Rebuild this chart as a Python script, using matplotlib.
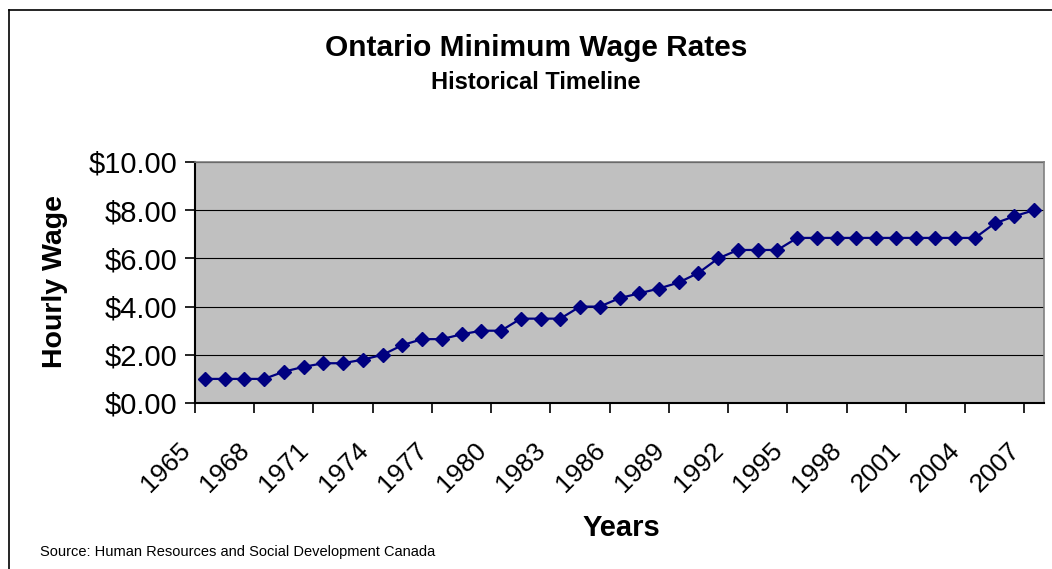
import matplotlib.pyplot as plt
from matplotlib.lines import Line2D
import numpy as np

plt.rcParams['font.family'] = ['Liberation Sans', 'DejaVu Sans']

# Ontario minimum wage, 1965 - 2007
years = list(range(1965, 2008))
wages = [1.00, 1.00, 1.00, 1.00, 1.30, 1.50, 1.65, 1.65, 1.80, 2.00,
         2.40, 2.65, 2.65, 2.85, 3.00, 3.00, 3.50, 3.50, 3.50, 4.00,
         4.00, 4.35, 4.55, 4.75, 5.00, 5.40, 6.00, 6.35, 6.35, 6.35,
         6.85, 6.85, 6.85, 6.85, 6.85, 6.85, 6.85, 6.85, 6.85, 6.85,
         7.45, 7.75, 8.00]
yticks = [0, 2, 4, 6, 8, 10]

W, H = 1052, 569
fig = plt.figure(figsize=(W / 100, H / 100), dpi=100)
ax = fig.add_axes([195 / W, 1 - 403 / H, (1044 - 195) / W, (403 - 162) / H])

x = np.arange(len(years))
ax.set_facecolor('#C0C0C0')
ax.plot(x, wages, color='#000080', lw=1.6, marker='D', markersize=6.8,
        markerfacecolor='#000080', markeredgecolor='#000080', zorder=3)

ax.set_xlim(-0.5, len(years) - 0.5)
ax.set_ylim(0, 10)
ax.set_yticks(yticks)
ax.set_yticklabels(['$%.2f' % v for v in yticks], fontsize=21)
ax.yaxis.grid(True, color='black', lw=0.8)
ax.set_axisbelow(True)

# every third year labelled, tick marks on the category boundary before it
lab_idx = x[::3]
ax.set_xticks(lab_idx - 0.5)
ax.set_xticklabels([str(years[i]) for i in lab_idx], fontsize=19,
                   rotation=45, ha='right', va='top')
ax.tick_params(axis='x', length=7, width=1.2, color='black', pad=18)
ax.tick_params(axis='y', length=7, width=1.2, pad=6)

for s in ['left', 'bottom']:
    ax.spines[s].set_color('black')
    ax.spines[s].set_linewidth(1.5)
for s in ['top', 'right']:
    ax.spines[s].set_color('#808080')
    ax.spines[s].set_linewidth(1.2)

fig.text(536 / W, 1 - 48 / H, 'Ontario Minimum Wage Rates', ha='center',
         va='center', fontsize=21.5, fontweight='bold')
fig.text(536 / W, 1 - 83 / H, 'Historical Timeline', ha='center',
         va='center', fontsize=17, fontweight='bold')
fig.text(55 / W, 1 - 282 / H, 'Hourly Wage', rotation=90, ha='center',
         va='center', fontsize=20.5, fontweight='bold')
fig.text(621 / W, 1 - 528 / H, 'Years', ha='center', va='center',
         fontsize=21, fontweight='bold')
fig.text(40 / W, 1 - 552 / H, 'Source: Human Resources and Social Development Canada',
         ha='left', va='center', fontsize=10.5)

# outer chart frame (top and left edges only are visible)
fy = 1 - 9.5 / H
fx = 9 / W
fig.lines.append(Line2D([fx, 1.01], [fy, fy], transform=fig.transFigure,
                        color='black', lw=1.2))
fig.lines.append(Line2D([fx, fx], [-0.01, fy], transform=fig.transFigure,
                        color='black', lw=1.2))

fig.savefig('out.png', dpi=100)
